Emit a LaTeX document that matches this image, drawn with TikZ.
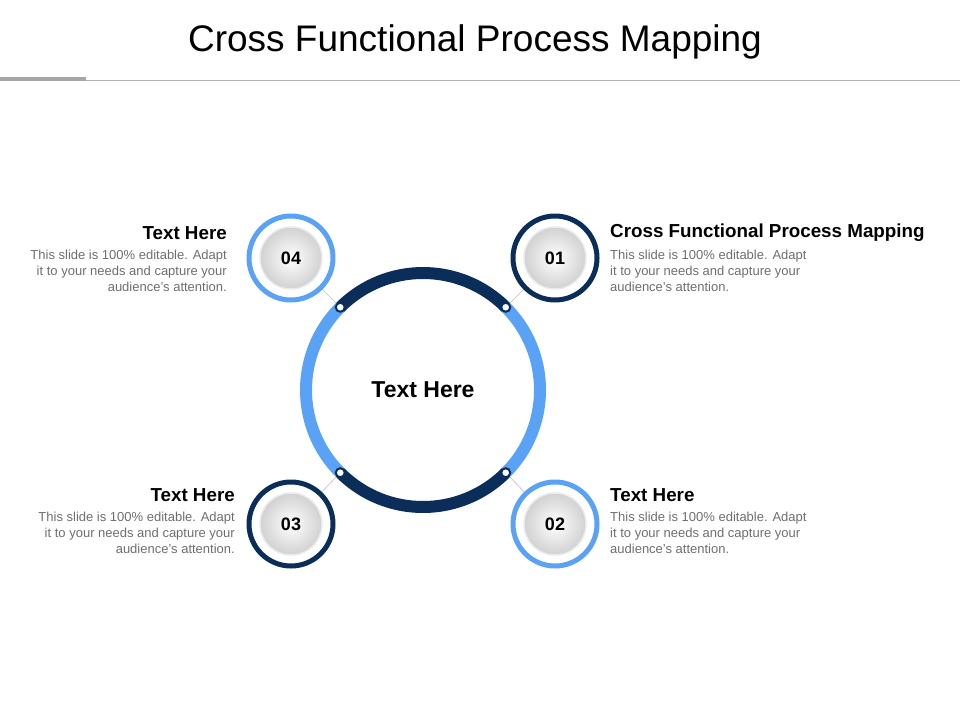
\documentclass[tikz,border=0pt]{standalone}
\usepackage{fontspec}
\setmainfont{Liberation Sans}
\definecolor{navy}{HTML}{0B2D5A}
\definecolor{skyblue}{HTML}{5AA2F5}
\definecolor{bodygray}{HTML}{6E6E6E}
\tikzset{
  head/.style={font=\fontsize{18.8}{22}\selectfont\bfseries, inner sep=0pt},
  body/.style={font=\fontsize{13}{16}\selectfont, text=bodygray, inner sep=0pt},
  num/.style={font=\fontsize{18}{20}\selectfont\bfseries, inner sep=0pt},
}
\begin{document}
\begin{tikzpicture}[x=1pt,y=-1pt]
\useasboundingbox (0,0) rectangle (960,720);
\node[font=\fontsize{37}{42}\selectfont] (title) at (475,42) {Cross Functional Process Mapping};
\draw[black!30, line width=1pt] (0,80) -- (960,80);
\draw[black!35, line width=4pt] (0,79) -- (86,79);
% ring
\coordinate (c) at (423,390);
\foreach \a/\col in {-45/skyblue,45/navy,135/skyblue,225/navy}
  \draw[\col, line width=12pt] ([shift={(\a:117)}]c) arc[start angle=\a, end angle=\a+90, radius=117];
\node[head, font=\fontsize{23}{26}\selectfont\bfseries] (center) at (c) {Text Here};
% satellites
\foreach \n/\ang/\x/\y/\col in {01/-45/555/258/navy, 02/45/555/524/skyblue, 03/135/291/524/navy, 04/225/291/258/skyblue}{
  \coordinate (d\n) at ([shift={(\ang:117)}]c);
  \node[circle, minimum size=84pt, inner sep=0pt] (s\n) at (\x,\y) {};
  \draw[black!25, line width=0.6pt] (d\n) -- (s\n);
  \node[circle, minimum size=84pt, fill=white, draw=\col, line width=5pt] at (\x,\y) {};
  \node[circle, minimum size=62pt, inner color=white, outer color=black!18, draw=black!8, line width=1.5pt] (n\n) at (\x,\y) {};
  \node[num] at (n\n) {\n};
  \node[circle, fill=white, draw=navy, line width=2pt, minimum size=9pt, inner sep=0pt] at (d\n) {};
}
% texts
\node[head, anchor=west] (h01) at (610,233) {Cross Functional Process Mapping};
\node[body, anchor=north west, align=left] at (610,250) {This slide is 100\% editable. Adapt\\it to your needs and capture your\\audience’s attention.};
\node[head, anchor=west] (h02) at (610,495) {Text Here};
\node[body, anchor=north west, align=left] at (610,512) {This slide is 100\% editable. Adapt\\it to your needs and capture your\\audience’s attention.};
\node[head, anchor=east] (h04) at (227,233) {Text Here};
\node[body, anchor=north east, align=right] at (227,250) {This slide is 100\% editable. Adapt\\it to your needs and capture your\\audience’s attention.};
\node[head, anchor=east] (h03) at (235,495) {Text Here};
\node[body, anchor=north east, align=right] at (235,512) {This slide is 100\% editable. Adapt\\it to your needs and capture your\\audience’s attention.};
\end{tikzpicture}
\end{document}
